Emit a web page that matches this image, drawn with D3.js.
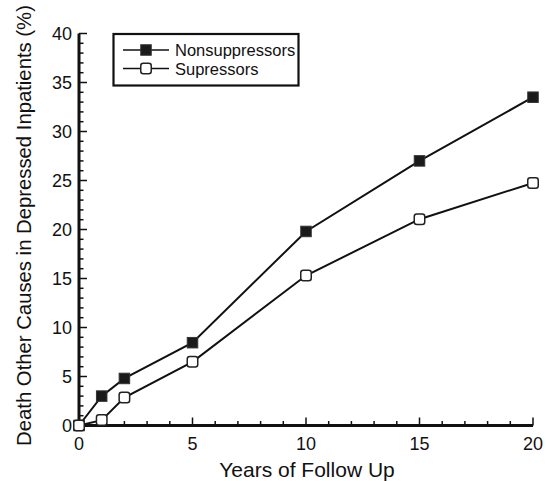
<!DOCTYPE html>
<html><head><meta charset="utf-8">
<script src="https://cdn.jsdelivr.net/npm/d3@7"></script>
<style>body{margin:0;background:#fff}svg{display:block}text{font-family:"Liberation Sans",Arial,sans-serif;fill:#111}</style>
</head><body><svg id="c" width="546" height="481"></svg>
<script>
const years = [0, 1, 2, 5, 10, 15, 20];
const nonsuppressors = [0, 3.0, 4.8, 8.45, 19.8, 27.0, 33.5];
const suppressors = [0, 0.55, 2.85, 6.5, 15.3, 21.05, 24.75];
const seriesNames = ["Nonsuppressors", "Supressors"];
const xTicks = [0, 5, 10, 15, 20];
const yTicks = [0, 5, 10, 15, 20, 25, 30, 35, 40];
const xTitle = "Years of Follow Up";
const yTitle = "Death Other Causes in Depressed Inpatients (%)";

const svg = d3.select("#c");
const x = d3.scaleLinear().domain([0, 20]).range([79, 533]);
const y = d3.scaleLinear().domain([0, 40]).range([425.5, 33.5]);
const ink = "#111";

const gx = svg.append("g");
gx.selectAll("line.minor").data(d3.range(0, 21)).join("line")
  .attr("x1", d => x(d)).attr("x2", d => x(d))
  .attr("y1", y(0)).attr("y2", d => y(0) - (d % 5 === 0 ? 8 : 4.5))
  .attr("stroke", ink).attr("stroke-width", 1.5);
gx.append("line").attr("x1", x(0) - 1.5).attr("x2", x(20)).attr("y1", y(0)).attr("y2", y(0))
  .attr("stroke", ink).attr("stroke-width", 3);
gx.selectAll("text").data(xTicks).join("text")
  .attr("x", d => x(d)).attr("y", 450).attr("text-anchor", "middle")
  .style("font-size", "18px").text(d => d);

const gy = svg.append("g");
gy.selectAll("line.minor").data(d3.range(0, 41)).join("line")
  .attr("y1", d => y(d)).attr("y2", d => y(d))
  .attr("x1", x(0)).attr("x2", d => x(0) + (d % 5 === 0 ? 8 : 4.5))
  .attr("stroke", ink).attr("stroke-width", 1.5);
gy.append("line").attr("x1", x(0)).attr("x2", x(0)).attr("y1", y(40)).attr("y2", y(0) + 1.5)
  .attr("stroke", ink).attr("stroke-width", 3);
gy.selectAll("text").data(yTicks).join("text")
  .attr("x", 72).attr("y", d => y(d) + 6.5).attr("text-anchor", "end")
  .style("font-size", "18px").text(d => d);

svg.append("text").attr("x", 307).attr("y", 477).attr("text-anchor", "middle")
  .style("font-size", "21px").text(xTitle);
svg.append("text").attr("transform", "translate(31,225.5) rotate(-90)").attr("text-anchor", "middle")
  .style("font-size", "20.3px").text(yTitle);

const line = d3.line().x(d => x(d[0])).y(d => y(d[1]));
const nsData = years.map((v, i) => [v, nonsuppressors[i]]);
const sData = years.map((v, i) => [v, suppressors[i]]);
[nsData, sData].forEach(dat => {
  svg.append("path").datum(dat).attr("d", line).attr("fill", "none")
    .attr("stroke", ink).attr("stroke-width", 2);
});
const ms = 10.5;
svg.selectAll("rect.ns").data(nsData).join("rect").attr("class", "ns")
  .attr("x", d => x(d[0]) - ms / 2).attr("y", d => y(d[1]) - ms / 2)
  .attr("width", ms).attr("height", ms).attr("fill", "#1a1a1a").attr("stroke", "#333").attr("stroke-width", 1);
svg.selectAll("rect.s").data(sData).join("rect").attr("class", "s")
  .attr("x", d => x(d[0]) - ms / 2).attr("y", d => y(d[1]) - ms / 2)
  .attr("width", ms).attr("height", ms).attr("rx", 2.5).attr("fill", "#fff").attr("stroke", "#222").attr("stroke-width", 1.5);

const lg = svg.append("g");
lg.append("rect").attr("x", 113.5).attr("y", 34).attr("width", 185).attr("height", 51.5)
  .attr("fill", "#fff").attr("stroke", ink).attr("stroke-width", 2.2);
seriesNames.forEach((name, i) => {
  const cy = 50 + i * 18.5;
  lg.append("line").attr("x1", 123).attr("x2", 169).attr("y1", cy).attr("y2", cy)
    .attr("stroke", ink).attr("stroke-width", 1.5);
  const r = lg.append("rect").attr("x", 146 - ms / 2).attr("y", cy - ms / 2).attr("width", ms).attr("height", ms);
  if (i === 0) r.attr("fill", "#1a1a1a").attr("stroke", "#333").attr("stroke-width", 1);
  else r.attr("rx", 2.5).attr("fill", "#fff").attr("stroke", "#222").attr("stroke-width", 1.5);
  lg.append("text").attr("x", 175).attr("y", cy + 6).style("font-size", "16.5px").text(name);
});
</script></body></html>
